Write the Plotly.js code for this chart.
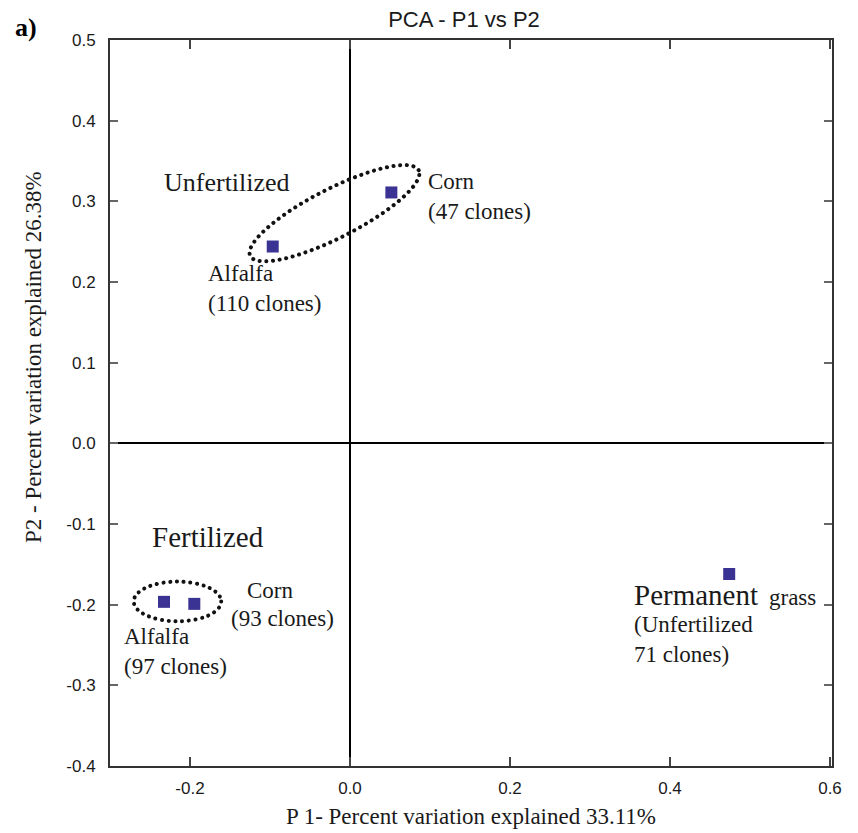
<!DOCTYPE html>
<html>
<head>
<meta charset="utf-8">
<script src="https://cdn.plot.ly/plotly-3.0.1.min.js"></script>
<style>html,body{margin:0;padding:0;background:#fff;}</style>
</head>
<body>
<div id="chart" style="width:858px;height:833px;"></div>
<script>
// ---- data ----
const groupNames = ["Unfertilized Alfalfa", "Unfertilized Corn", "Fertilized Alfalfa", "Fertilized Corn", "Permanent grass"];
const p1Values = [-0.0966, 0.0517, -0.2325, -0.1946, 0.474];
const p2Values = [0.244, 0.311, -0.1965, -0.199, -0.162];
const xTickVals = [-0.2, 0.0, 0.2, 0.4, 0.6];
const xTickText = ["-0.2", "0.0", "0.2", "0.4", "0.6"];
const yTickVals = [-0.4, -0.3, -0.2, -0.1, 0.0, 0.1, 0.2, 0.3, 0.4, 0.5];
const yTickText = ["-0.4", "-0.3", "-0.2", "-0.1", "0.0", "0.1", "0.2", "0.3", "0.4", "0.5"];

// ---- geometry / style constants ----
const PX_PER_X = 800, PX_PER_Y = 806.7;
const serif = "Liberation Serif, Times New Roman, serif";
const sans = "Liberation Sans, Arial, sans-serif";
const txt = "#1a1a1a";

// rotated dotted ellipse around unfertilized group (center in data units, semi-axes in px)
function ellipsePath(cx, cy, aPx, bPx, deg, n) {
  const th = deg * Math.PI / 180;
  let d = "";
  for (let i = 0; i <= n; i++) {
    const t = 2 * Math.PI * i / n;
    const dx = aPx * Math.cos(t) * Math.cos(th) - bPx * Math.sin(t) * Math.sin(th);
    const dy = aPx * Math.cos(t) * Math.sin(th) + bPx * Math.sin(t) * Math.cos(th);
    const x = cx + dx / PX_PER_X, y = cy + dy / PX_PER_Y;
    d += (i === 0 ? "M" : "L") + x.toFixed(5) + "," + y.toFixed(5);
  }
  return d + "Z";
}

const dotLine = {color: "#111", width: 4, dash: "0.1px,6.6px"};

const trace = {
  x: p1Values, y: p2Values, text: groupNames,
  type: "scatter", mode: "markers",
  marker: {symbol: "square", size: 12, color: "#3b3393"},
  hoverinfo: "text+x+y", showlegend: false
};

function ann(text, x, y, size, xanchor, extra) {
  return Object.assign({text: text, x: x, y: y, xref: "x", yref: "y", showarrow: false,
    xanchor: xanchor, yanchor: "middle", align: xanchor === "left" ? "left" : "center",
    font: {family: serif, size: size, color: txt}}, extra || {});
}

const layout = {
  width: 858, height: 833,
  margin: {l: 110, r: 26, t: 40, b: 67},
  paper_bgcolor: "#fff", plot_bgcolor: "#fff",
  title: {text: "PCA - P1 vs P2", font: {family: sans, size: 22, color: txt},
          x: 464 / 858, xref: "container", xanchor: "center", y: 0.977, yref: "container", yanchor: "middle"},
  xaxis: {
    range: [-0.3, 0.6025], tickvals: xTickVals, ticktext: xTickText,
    showgrid: false, zeroline: true, zerolinecolor: "#000", zerolinewidth: 2,
    showline: true, linecolor: "#333", linewidth: 2, mirror: "ticks",
    ticks: "inside", ticklen: 9, tickwidth: 1.5, tickcolor: "#444",
    ticklabelstandoff: 6,
    tickfont: {family: sans, size: 17, color: txt},
    title: {text: "P 1- Percent variation explained 33.11%", font: {family: serif, size: 23, color: txt}, standoff: 10}
  },
  yaxis: {
    range: [-0.4, 0.5], tickvals: yTickVals, ticktext: yTickText,
    showgrid: false, zeroline: true, zerolinecolor: "#000", zerolinewidth: 2,
    showline: true, linecolor: "#333", linewidth: 2, mirror: "ticks",
    ticks: "inside", ticklen: 8, tickwidth: 1.5, tickcolor: "#666",
    ticklabelstandoff: 9,
    tickfont: {family: sans, size: 17, color: txt}
  },
  shapes: [
    {type: "path", xref: "x", yref: "y", path: ellipsePath(-0.0194, 0.2853, 94.5, 24.5, 27, 120), line: dotLine},
    {type: "circle", xref: "x", yref: "y", x0: -0.2703, x1: -0.161, y0: -0.2206, y1: -0.1714, line: dotLine}
  ],
  annotations: [
    ann("Unfertilized", -0.154, 0.323, 26, "center"),
    ann("Corn<br>(47 clones)", 0.095, 0.306, 23, "left"),
    ann("Alfalfa<br>(110 clones)", -0.1795, 0.1925, 23, "left"),
    ann("Fertilized", -0.1778, -0.1162, 29, "center"),
    ann("Corn", -0.099, -0.1819, 23, "center"),
    ann("(93 clones)", -0.084, -0.2172, 23, "center"),
    ann("Alfalfa<br>(97 clones)", -0.2854, -0.2575, 23, "left"),
    ann("Permanent", 0.3521, -0.1881, 29, "left"),
    ann("grass", 0.5208, -0.1906, 23, "left"),
    ann("(Unfertilized<br>71 clones)", 0.3521, -0.2433, 23, "left"),
    {text: "P2 - Percent variation explained 26.38%", xref: "paper", yref: "paper",
     x: (33 - 110) / 722, y: (766 - 357) / 726, textangle: -90, showarrow: false, xanchor: "center", yanchor: "middle",
     font: {family: serif, size: 23, color: txt}},
    {text: "<b>a)</b>", xref: "paper", yref: "paper", x: (26 - 110) / 722, y: 1 + (40 - 27) / 726,
     showarrow: false, xanchor: "center", yanchor: "middle",
     font: {family: serif, size: 26, color: "#000"}}
  ]
};

Plotly.newPlot("chart", [trace], layout, {displayModeBar: false}).then(function () {
  document.querySelectorAll(".shapelayer path").forEach(function (p) {
    p.style.strokeLinecap = "round";
  });
});
</script>
</body>
</html>
